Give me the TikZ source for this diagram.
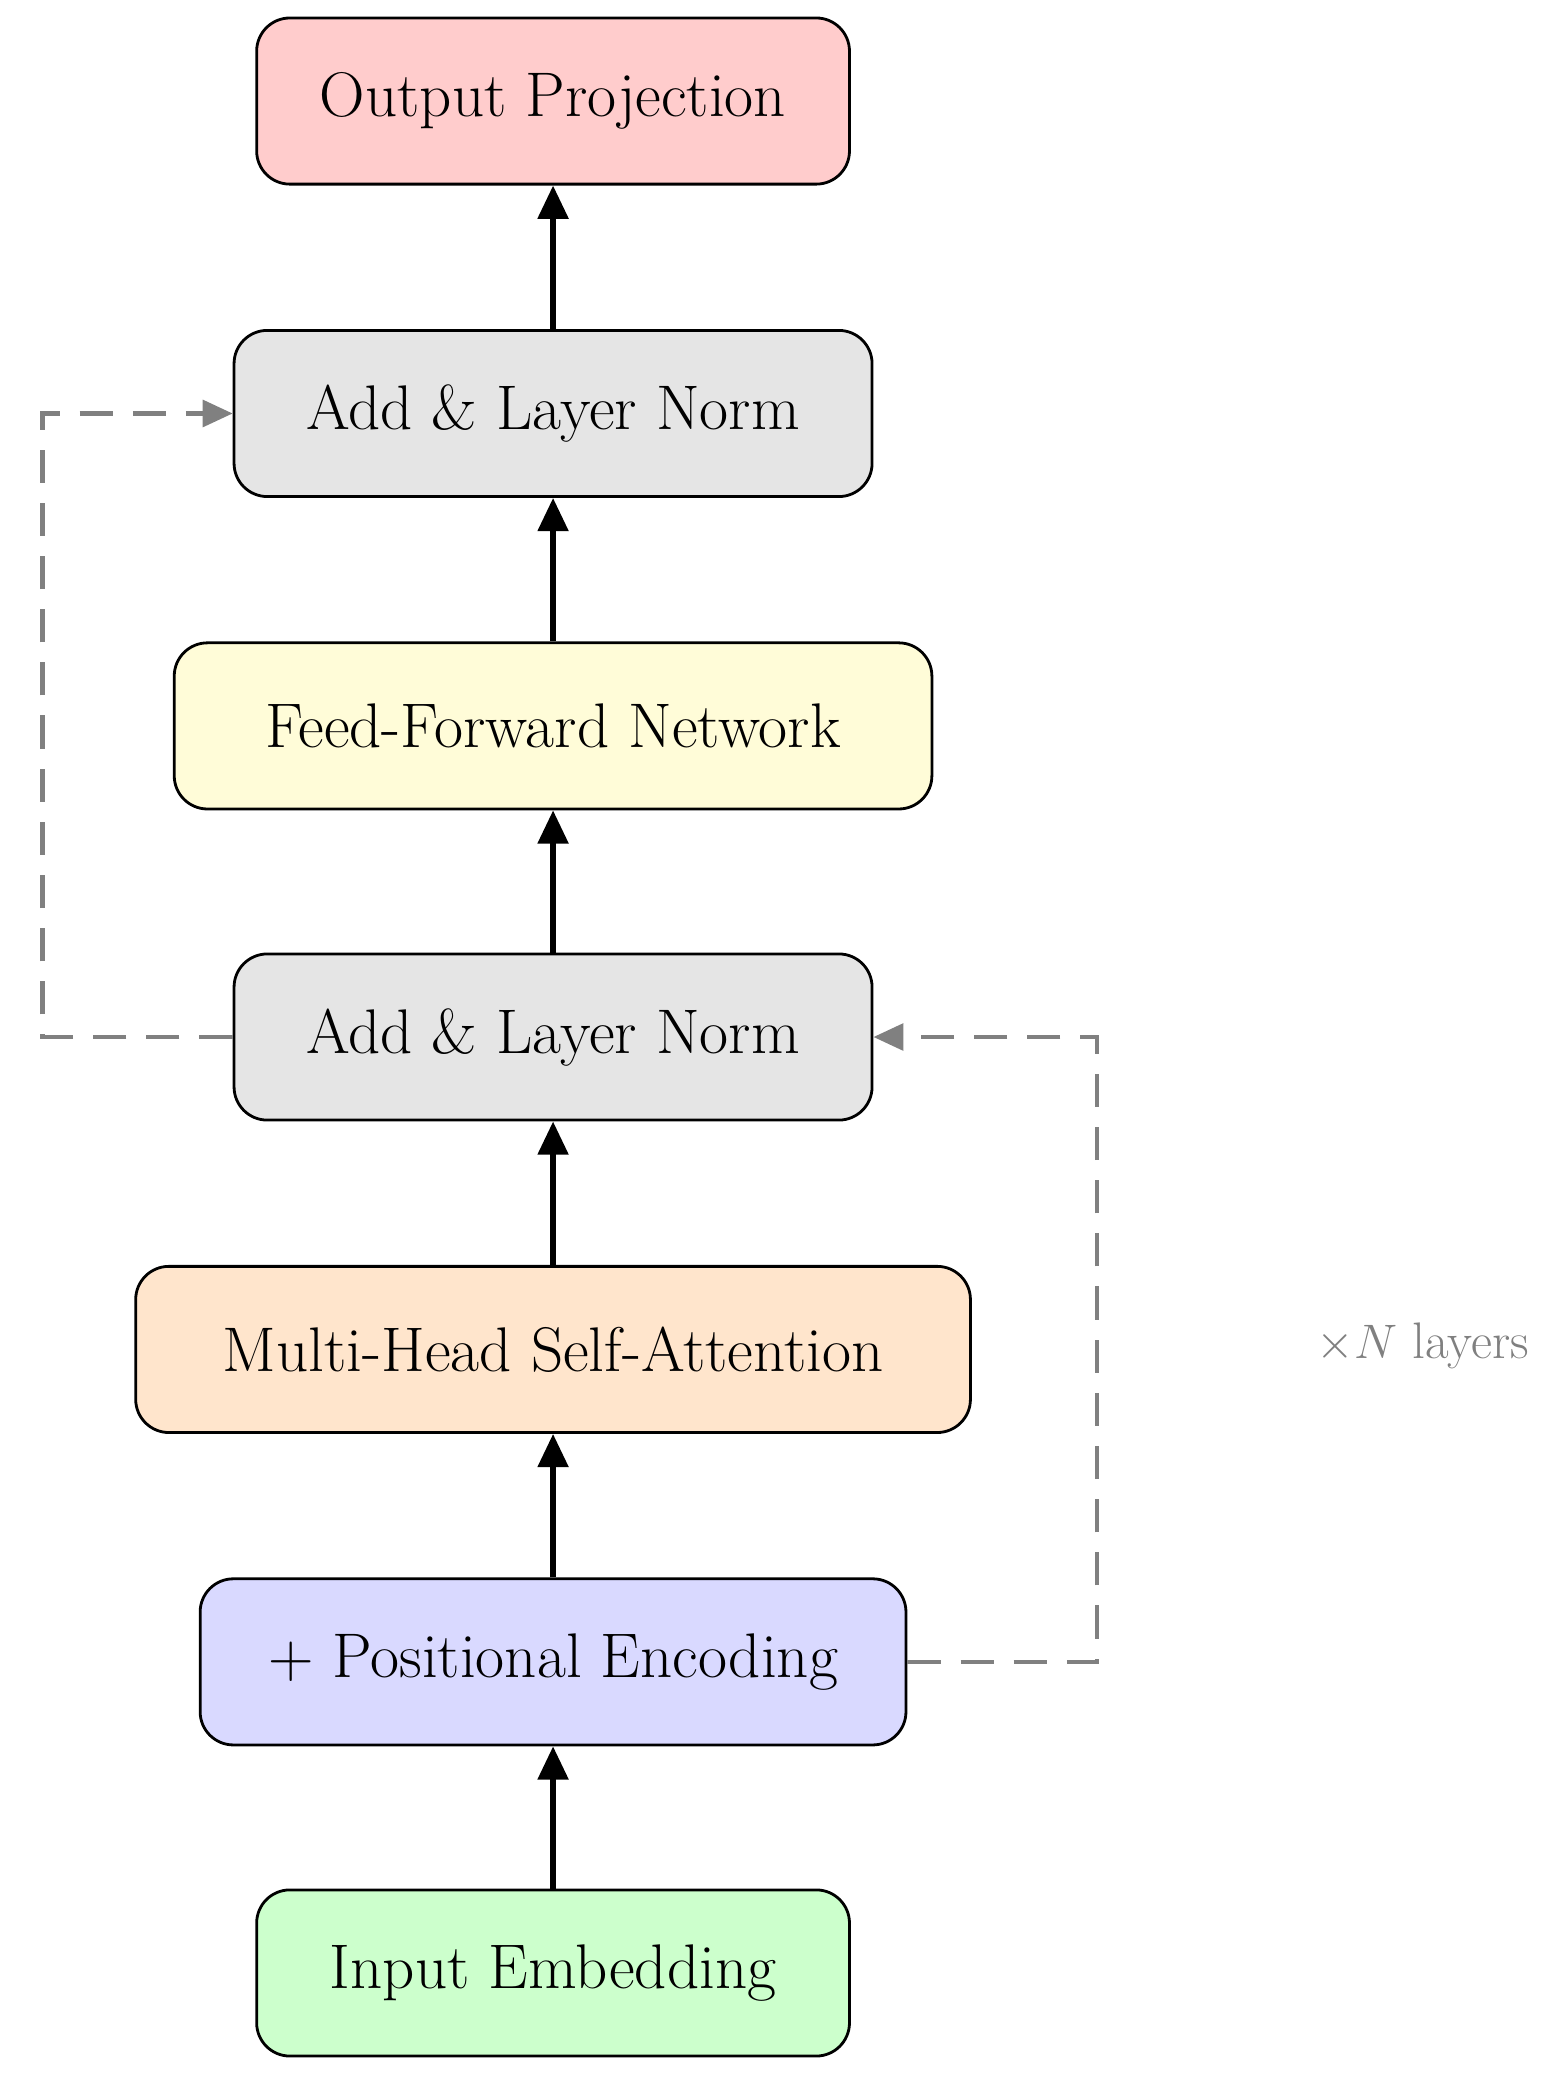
\documentclass[tikz,border=0pt]{standalone}
\usetikzlibrary{arrows.meta}
\definecolor{cred}{HTML}{FFCCCC}
\definecolor{cgray}{HTML}{E5E5E5}
\definecolor{cyel}{HTML}{FFFCD8}
\definecolor{corg}{HTML}{FFE5CC}
\definecolor{cblu}{HTML}{D9D9FF}
\definecolor{cgrn}{HTML}{CCFFCC}
\definecolor{dgray}{HTML}{808080}
\begin{document}
\begin{tikzpicture}[x=0.02cm,y=-0.02cm,
  blk/.style={draw=black,line width=1.2pt,rounded corners=0.5cm,minimum height=2.5cm,inner sep=0pt,font=\fontsize{27}{32}\selectfont},
  arr/.style={-{Triangle[length=0.5cm,width=0.45cm]},line width=2.4pt},
  skip/.style={dashed,dash pattern=on 0.5cm off 0.3cm,draw=dgray,line width=1.8pt,-{Triangle[length=0.45cm,width=0.4cm]}}]
\useasboundingbox (0,0) rectangle (1174,1560);
\node[blk,fill=cred,minimum width=8.92cm] (out) at (416,76) {Output Projection};
\node[blk,fill=cgray,minimum width=9.6cm] (an2) at (416,311) {Add \& Layer Norm};
\node[blk,fill=cyel,minimum width=11.4cm] (ffn) at (416,546) {Feed-Forward Network};
\node[blk,fill=cgray,minimum width=9.6cm] (an1) at (416,780) {Add \& Layer Norm};
\node[blk,fill=corg,minimum width=12.56cm] (mha) at (416,1015) {Multi-Head Self-Attention};
\node[blk,fill=cblu,minimum width=10.62cm] (pe) at (416,1250) {+ Positional Encoding};
\node[blk,fill=cgrn,minimum width=8.92cm] (inp) at (416,1484) {Input Embedding};
\draw[arr] (inp) -- (pe);
\draw[arr] (pe) -- (mha);
\draw[arr] (mha) -- (an1);
\draw[arr] (an1) -- (ffn);
\draw[arr] (ffn) -- (an2);
\draw[arr] (an2) -- (out);
\coordinate (l1) at (32,780);
\coordinate (l2) at (32,311);
\coordinate (r1) at (825,1250);
\coordinate (r2) at (825,780);
\draw[skip] (an1.west) -- (l1) -- (l2) -- (an2.west);
\draw[skip] (pe.east) -- (r1) -- (r2) -- (an1.east);
\node[text=dgray,font=\fontsize{22}{26}\selectfont] (lab) at (1070,1012) {$\times N$ layers};
\end{tikzpicture}
\end{document}
